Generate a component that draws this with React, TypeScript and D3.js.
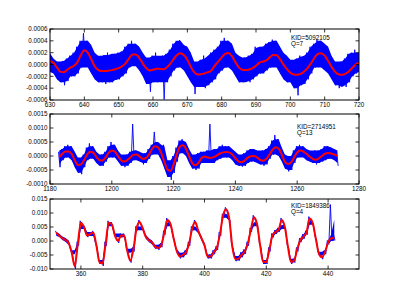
import React from "react";
import * as d3 from "d3";

// panel 1: KID=5092105, Q=7 (values in units of 1e-4)
const p1Start = 630;
const p1Fit = [
  0.6, 0.3, -0.5, -1.2, -1.3, -0.9, -0.5, -0.2, 0.4, 1.6,
  2.4, 2.0, 0.9, -0.3, -0.9, -1.1, -1.1, -1.05, -0.95, -0.8,
  -0.6, -0.3, 0.2, 1.0, 1.7, 1.7, 1.1, 0.2, -0.6, -1.0,
  -0.9, -0.7, -0.75, -0.8, -0.5, 0.1, 0.9, 1.6, 1.9, 1.6,
  0.8, -0.4, -1.3, -1.7, -1.65, -1.5, -1.3, -1.0, -0.2, 0.5,
  1.2, 1.8, 1.95, 1.4, 0.4, -0.5, -0.9, -0.95, -0.85, -0.6,
  -0.2, 0.3, 0.5, 0.7, 1.2, 1.6, 1.55, 0.9, 0.0, -0.8,
  -1.4, -1.7, -1.75, -1.6, -1.2, -0.6, 0.2, 1.1, 1.8, 1.9,
  1.5, 0.6, -0.4, -1.2, -1.65, -1.75, -1.6, -1.2, -0.6, 0.0,
  0.3,
];
const p1Hi = [
  2.8, 1.0, 0.5, 0.2, 0.6, 1.0, 1.5, 2.0, 3.0, 4.0,
  5.3, 4.0, 3.3, 2.0, 1.5, 1.3, 1.6, 2.0, 1.5, 1.8,
  2.0, 2.2, 3.0, 3.5, 4.0, 3.5, 3.0, 2.0, 1.2, 1.0,
  1.5, 2.0, 1.2, 1.5, 1.8, 2.5, 3.5, 4.0, 4.1, 3.3,
  3.0, 2.0, 0.5, 0.3, 0.8, 1.5, 1.0, 2.0, 2.5, 3.0,
  4.0, 4.5, 4.0, 3.5, 2.0, 1.5, 1.0, 1.2, 1.5, 1.8,
  3.0, 2.8, 3.0, 3.5, 3.8, 4.2, 4.0, 3.0, 2.0, 1.5,
  0.8, 0.5, 1.0, 1.5, 1.3, 2.0, 3.0, 3.5, 4.2, 4.0,
  3.5, 3.0, 1.5, 0.5, 0.3, 0.5, 1.0, 1.8, 2.0, 2.5,
  1.5,
];
const p1Lo = [
  -1.0, -1.5, -2.5, -3.0, -3.5, -2.8, -2.0, -2.0, -1.5, -0.5,
  0.0, -0.5, -1.5, -2.5, -3.0, -3.0, -3.3, -3.0, -3.0, -2.6,
  -2.5, -2.0, -1.5, -0.5, 0.0, -0.3, -1.0, -2.0, -3.3, -4.6,
  -3.0, -3.0, -2.8, -5.9, -3.0, -2.0, -1.0, -0.5, -0.3, -1.0,
  -2.0, -3.0, -5.0, -3.8, -3.8, -4.0, -3.5, -3.0, -2.5, -1.5,
  -1.0, -0.5, -0.3, -1.0, -2.0, -3.0, -3.0, -2.8, -3.0, -2.5,
  -2.0, -1.5, -1.5, -1.0, -0.5, -0.3, -0.5, -1.5, -2.5, -3.0,
  -3.0, -4.0, -5.2, -3.5, -3.3, -2.5, -1.5, -0.5, -0.3, -0.5,
  -1.0, -1.5, -2.5, -3.5, -4.0, -3.5, -3.8, -3.0, -2.0, -1.5,
  -1.0,
];

// panel 2: KID=2714951, Q=13 (values in units of 1e-4)
const p2Start = 1183;
const p2Fit = [
  -0.4, 0.8, 1.6, 1.6, 0.8, -1.5, -3.2, -3.0, -1.5, 0.5,
  1.5, 1.2, -0.3, -1.5, -1.6, -0.5, 1.2, 2.0, 1.5, 0.0,
  -1.5, -2.0, -1.5, -0.5, 0.4, 0.5, -0.2, -1.0, -0.8, 0.5,
  2.5, 3.5, 3.0, 1.0, -2.0, -4.8, -5.3, -3.0, 0.5, 3.3,
  3.8, 2.6, 0.0, -2.5, -3.3, -2.5, -0.8, -0.2, -0.5, -0.6,
  -0.4, 0.2, 0.9, 1.3, 1.4, 1.3, 0.5, -0.8, -1.9, -2.2,
  -1.6, -0.6, -0.1, 0.0, -0.5, -1.4, -1.7, -1.0, 0.5, 2.2,
  3.1, 2.6, 0.5, -2.0, -2.9, -2.3, -0.5, 1.3, 2.0, 1.6,
  0.8, -0.2, -1.0, -1.3, -0.8, 0.0, 0.8, 1.1, 0.9, 0.5,
  0.1,
];
const p2Hi = [
  1.5, 2.5, 3.5, 4.0, 3.5, 1.5, -0.5, -1.0, 0.5, 3.0,
  4.5, 3.5, 1.5, 0.5, 0.5, 1.5, 3.5, 5.0, 4.0, 2.0,
  0.5, 0.0, 0.5, 1.5, 11.4, 2.0, 1.5, 1.0, 1.0, 2.5,
  4.0, 8.6, 5.0, 3.5, 4.0, -1.5, -2.5, 0.0, 3.0, 5.5,
  6.0, 5.0, 2.5, 0.5, 0.0, 1.0, 1.5, 1.5, 2.0, 11.4,
  2.0, 2.5, 3.5, 4.0, 3.5, 3.5, 2.5, 1.5, 0.5, 0.3,
  1.0, 2.0, 2.5, 2.5, 2.0, 1.5, 2.0, 2.5, 3.5, 5.5,
  7.5, 6.0, 3.0, 0.5, -0.5, 0.0, 2.0, 3.5, 4.0, 3.5,
  2.5, 2.0, 1.5, 2.0, 2.0, 2.5, 3.5, 3.5, 3.0, 2.5,
  1.5,
];
const p2Lo = [
  -4.0, -1.5, -0.5, -0.5, -1.5, -4.0, -6.0, -6.5, -4.0, -1.5,
  -0.5, -1.0, -2.5, -3.5, -3.5, -2.0, -0.5, -0.5, -0.5, -2.0,
  -3.5, -4.0, -3.5, -2.5, -1.5, -1.5, -2.0, -3.0, -2.5, -1.0,
  0.5, 1.0, 0.5, -1.5, -4.5, -7.5, -8.5, -6.0, -2.0, 1.0,
  1.5, 0.0, -2.5, -4.5, -5.0, -4.5, -2.5, -2.0, -2.5, -2.5,
  -2.5, -1.5, -1.0, -0.5, -0.5, -0.5, -1.5, -3.0, -3.5, -3.8,
  -3.5, -2.5, -2.0, -2.0, -2.5, -3.0, -3.5, -3.0, -1.0, 0.5,
  1.0, 0.0, -2.0, -4.5, -5.5, -5.0, -2.5, -0.5, 0.0, -0.5,
  -1.5, -2.0, -2.5, -3.0, -2.5, -2.0, -1.5, -1.0, -1.0, -1.5,
  -3.5,
];

// panel 3: KID=1849386, Q=4 (values in units of 1e-3)
const p3Start = 352;
const p3Fit = [
  3.0, 2.0, 1.0, 0.4, -0.5, -4.0, -9.0, -1.0, 6.5, 5.0,
  2.0, 2.5, 3.0, -1.5, -7.5, -8.0, -1.0, 6.5, 6.0, 2.0,
  0.0, 2.0, 2.0, -3.5, -7.0, -3.0, 4.5, 6.8, 4.5, 1.5,
  0.3, -0.5, -2.0, -2.5, -1.5, 3.0, 7.5, 6.0, 1.0, -3.5,
  -5.5, -5.0, -4.0, -1.0, 4.5, 6.8, 3.5, 1.0, -1.5, -5.5,
  -5.5, -4.0, -2.5, 2.5, 9.0, 11.3, 8.0, -2.0, -6.5, -6.3,
  -5.0, -3.8, -1.0, 4.0, 8.5, 6.0, -1.5, -7.5, -7.5, -3.0,
  2.0, 3.2, 4.0, 7.5, 5.0, -2.0, -7.5, -7.0, -3.0, 0.3,
  1.5, 3.0, 8.0, 6.5, 1.0, -4.5, -5.8, -4.0, -0.5, 1.0,
  1.2,
];
const p3Hi = [
  3.6, 2.6, 1.6, 1.1, 0.3, -3.3, -8.3, -0.3, 7.2, 5.7,
  2.6, 3.2, 3.6, -0.8, -6.8, -7.3, -0.3, 7.2, 6.7, 2.7,
  0.7, 2.7, 2.6, -2.8, -6.3, -2.3, 5.2, 7.5, 5.2, 2.2,
  1.0, 0.2, -1.3, -1.8, -0.8, 3.7, 8.2, 6.7, 1.7, -2.8,
  -4.8, -4.2, -3.2, -0.3, 5.2, 7.5, 4.2, 1.7, -0.8, -4.8,
  -4.8, -3.3, -1.8, 3.2, 9.7, 12.0, 8.7, -1.3, -5.8, -5.4,
  -4.0, -3.0, -0.3, 4.7, 9.2, 6.7, -0.8, -6.8, -6.8, -2.3,
  2.7, 3.9, 4.7, 8.2, 5.7, -1.3, -6.8, -6.3, -2.3, 1.0,
  2.4, 3.7, 8.7, 7.2, 1.7, -3.8, -5.1, -3.3, 0.2, 13.0,
  2.3,
];
const p3Lo = [
  2.4, 1.4, 0.4, -0.3, -1.3, -4.7, -9.9, -1.7, 5.8, 4.3,
  1.4, 1.8, 2.4, -2.2, -8.2, -8.9, -1.7, 5.8, 5.3, 1.3,
  -0.7, 1.3, 1.4, -4.2, -7.7, -3.7, 3.8, 6.1, 3.8, 0.8,
  -0.4, -1.2, -2.7, -3.2, -2.2, 2.3, 6.8, 5.3, 0.3, -4.2,
  -6.2, -5.8, -4.8, -1.7, 3.8, 6.1, 2.8, 0.3, -2.2, -6.2,
  -6.2, -4.7, -3.2, 1.8, 8.3, 10.6, 7.3, -2.7, -7.2, -7.0,
  -5.8, -4.6, -1.7, 3.3, 7.8, 5.3, -2.2, -8.2, -8.2, -3.7,
  1.3, 2.5, 3.3, 6.8, 4.3, -2.7, -8.2, -7.7, -3.7, -0.4,
  0.8, 2.3, 7.3, 5.8, 0.3, -5.2, -6.5, -4.7, -1.2, 0.0,
  0.2,
];

// axis ticks
const p1XTicks = [630, 640, 650, 660, 670, 680, 690, 700, 710, 720];
const p1YTicks = [-0.0006, -0.0004, -0.0002, 0, 0.0002, 0.0004, 0.0006];
const p2XTicks = [1180, 1200, 1220, 1240, 1260, 1280];
const p2YTicks = [-0.001, -0.0005, 0, 0.0005, 0.001, 0.0015];
const p3XTicks = [360, 380, 400, 420, 440];
const p3YTicks = [-0.01, -0.005, 0, 0.005, 0.01, 0.015];

const W = 399;
const H = 299;
const left = 50;
const right = 359;
const font = "'Liberation Sans', Arial, sans-serif";

const loc = d3.formatLocale({
  decimal: ".",
  thousands: ",",
  grouping: [3],
  currency: ["", ""],
  minus: "-",
});

const panels = [
  {
    start: p1Start, fit: p1Fit, hi: p1Hi, lo: p1Lo, unit: 1e-4,
    xDomain: [630, 720], yDomain: [-0.0006, 0.0006],
    xTicks: p1XTicks, yTicks: p1YTicks, fmt: loc.format(".4f"),
    top: 29, bottom: 100, label: ["KID=5092105", "Q=7"], lx: 291, ly: 39.5,
  },
  {
    start: p2Start, fit: p2Fit, hi: p2Hi, lo: p2Lo, unit: 1e-4,
    xDomain: [1180, 1280], yDomain: [-0.001, 0.0015],
    xTicks: p2XTicks, yTicks: p2YTicks, fmt: loc.format(".4f"),
    top: 114, bottom: 184, label: ["KID=2714951", "Q=13"], lx: 297, ly: 129,
  },
  {
    start: p3Start, fit: p3Fit, hi: p3Hi, lo: p3Lo, unit: 1e-3,
    xDomain: [350, 450], yDomain: [-0.01, 0.015],
    xTicks: p3XTicks, yTicks: p3YTicks, fmt: loc.format(".3f"),
    top: 199, bottom: 269, label: ["KID=1849386", "Q=4"], lx: 291, ly: 208,
  },
];

// median of neighbours, so isolated spikes are left to the thin zigzag line
const core = (arr: number[], i: number) =>
  d3.median(arr.slice(Math.max(0, i - 1), i + 2)) as number;

function Panel({ p, idx }: { p: (typeof panels)[number]; idx: number }) {
  const x = d3.scaleLinear().domain(p.xDomain).range([left, right]);
  const y = d3.scaleLinear().domain(p.yDomain).range([p.bottom, p.top]);

  const band = d3
    .area<number>()
    .x((_, i) => x(p.start + i))
    .y0((_, i) => y(core(p.lo, i) * p.unit))
    .y1((_, i) => y(core(p.hi, i) * p.unit));

  const pts: [number, number][] = [];
  p.hi.forEach((h, i) => {
    const t = p.start + i;
    pts.push([t - 0.25, h * p.unit]);
    pts.push([t + 0.25, p.lo[i] * p.unit]);
  });
  const raw = d3
    .line<[number, number]>()
    .x((d) => x(d[0]))
    .y((d) => y(d[1]));

  const fitLine = d3
    .line<number>()
    .x((_, i) => x(p.start + i))
    .y((d) => y(d * p.unit))
    .curve(d3.curveMonotoneX);

  const clipId = `clip${idx}`;
  const tick = 3.5;

  return (
    <g>
      <defs>
        <clipPath id={clipId}>
          <rect x={left} y={p.top} width={right - left} height={p.bottom - p.top} />
        </clipPath>
      </defs>
      <g clipPath={`url(#${clipId})`}>
        <path d={band(p.hi) ?? ""} fill="#0000ff" stroke="none" />
        <path d={raw(pts) ?? ""} fill="none" stroke="#0000ff" strokeWidth={0.9} />
        <path d={fitLine(p.fit) ?? ""} fill="none" stroke="#ff0000" strokeWidth={2} />
      </g>
      <rect
        x={left}
        y={p.top}
        width={right - left}
        height={p.bottom - p.top}
        fill="none"
        stroke="#000"
        strokeWidth={1}
      />
      {p.xTicks.map((t) => (
        <g key={`x${t}`}>
          <line x1={x(t)} x2={x(t)} y1={p.bottom} y2={p.bottom - tick} stroke="#000" strokeWidth={0.8} />
          <line x1={x(t)} x2={x(t)} y1={p.top} y2={p.top + tick} stroke="#000" strokeWidth={0.8} />
          <text x={x(t)} y={p.bottom + 7} fontSize={6.3} textAnchor="middle" fontFamily={font}>
            {t}
          </text>
        </g>
      ))}
      {p.yTicks.map((t) => (
        <g key={`y${t}`}>
          <line x1={left} x2={left + tick} y1={y(t)} y2={y(t)} stroke="#000" strokeWidth={0.8} />
          <line x1={right} x2={right - tick} y1={y(t)} y2={y(t)} stroke="#000" strokeWidth={0.8} />
          <text x={left - 2.5} y={y(t) + 2.2} fontSize={6.3} textAnchor="end" fontFamily={font}>
            {p.fmt(t)}
          </text>
        </g>
      ))}
      <text x={p.lx} y={p.ly} fontSize={6.3} fontFamily={font}>
        {p.label[0]}
      </text>
      <text x={p.lx} y={p.ly + 6} fontSize={6.3} fontFamily={font}>
        {p.label[1]}
      </text>
    </g>
  );
}

export default function App() {
  return (
    <svg
      width={W}
      height={H}
      style={{ position: "absolute", left: 0, top: 0, background: "#fff" }}
    >
      {panels.map((p, i) => (
        <Panel key={i} p={p} idx={i} />
      ))}
    </svg>
  );
}
